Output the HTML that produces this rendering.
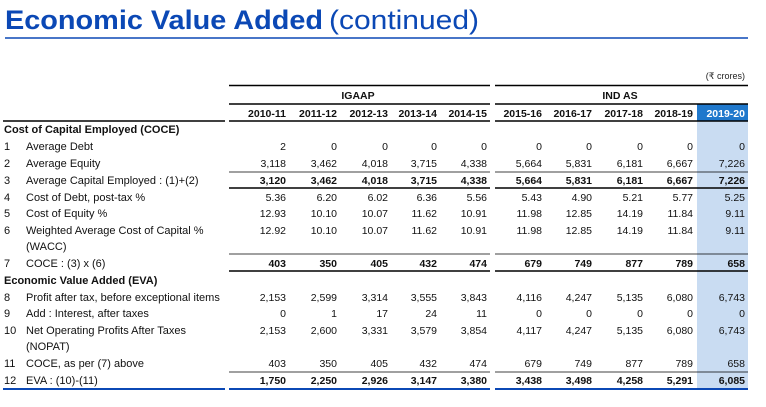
<!DOCTYPE html>
<html><head><meta charset="utf-8"><style>
html,body{margin:0;padding:0;background:#fff;}
svg{display:block;font-family:"Liberation Sans",sans-serif;}
.n{font-size:10.5px;fill:#111;}
.l{font-size:11px;fill:#111;}
.b{font-weight:bold;}
</style></head><body>
<svg width="766" height="407" viewBox="0 0 766 407">
<text x="5" y="29" font-size="27" font-weight="bold" fill="#0b48b5" textLength="318" lengthAdjust="spacingAndGlyphs">Economic Value Added</text>
<text x="329" y="29" font-size="27" fill="#0b48b5" textLength="150" lengthAdjust="spacingAndGlyphs">(continued)</text>
<line x1="5" y1="38" x2="748" y2="38" stroke="#0b48b5" stroke-width="1.5"/>
<text x="745" y="79" font-size="9" fill="#222" text-anchor="end">(₹ crores)</text>
<rect x="697" y="104" width="51" height="285" fill="#c9dcf2"/>
<rect x="697" y="104" width="51" height="17" fill="#1f78cc"/>
<g stroke="#000">
<line x1="229" y1="85.5" x2="490" y2="85.5" stroke-width="1.6"/>
<line x1="495" y1="85.5" x2="748" y2="85.5" stroke-width="1.6"/>
<line x1="229" y1="104" x2="490" y2="104" stroke-width="1.6"/>
<line x1="495" y1="104" x2="748" y2="104" stroke-width="1.6"/>
<line x1="3" y1="121" x2="225" y2="121" stroke-width="1.6"/>
<line x1="229" y1="121" x2="490" y2="121" stroke-width="1.6"/>
<line x1="495" y1="121" x2="748" y2="121" stroke-width="1.6"/>
<line x1="229" y1="172" x2="490" y2="172" stroke-width="0.8"/>
<line x1="495" y1="172" x2="748" y2="172" stroke-width="0.8"/>
<line x1="229" y1="188" x2="490" y2="188" stroke-width="1.6"/>
<line x1="495" y1="188" x2="748" y2="188" stroke-width="1.6"/>
<line x1="229" y1="254" x2="490" y2="254" stroke-width="0.8"/>
<line x1="495" y1="254" x2="748" y2="254" stroke-width="0.8"/>
<line x1="229" y1="271" x2="490" y2="271" stroke-width="1.6"/>
<line x1="495" y1="271" x2="748" y2="271" stroke-width="1.6"/>
<line x1="229" y1="372" x2="490" y2="372" stroke-width="0.8"/>
<line x1="495" y1="372" x2="748" y2="372" stroke-width="0.8"/>
</g>
<g stroke="#0b48b5" stroke-width="2">
<line x1="3" y1="389" x2="225" y2="389"/>
<line x1="229" y1="389" x2="490" y2="389"/>
<line x1="495" y1="389" x2="748" y2="389"/>
</g>
<text class="n b" x="358" y="99" text-anchor="middle">IGAAP</text>
<text class="n b" x="620" y="99" text-anchor="middle">IND AS</text>
<text class="n b" y="117" text-anchor="end"><tspan x="286">2010-11</tspan><tspan x="337">2011-12</tspan><tspan x="388">2012-13</tspan><tspan x="437">2013-14</tspan><tspan x="487">2014-15</tspan><tspan x="542">2015-16</tspan><tspan x="592">2016-17</tspan><tspan x="643">2017-18</tspan><tspan x="693">2018-19</tspan><tspan x="745" fill="#fff">2019-20</tspan></text>

<text class="l b" x="4" y="133">Cost of Capital Employed (COCE)</text>
<g class="l">
<text x="4" y="150">1</text><text x="26" y="150">Average Debt</text>
<text x="4" y="167">2</text><text x="26" y="167">Average Equity</text>
<text x="4" y="184">3</text><text x="26" y="184">Average Capital Employed : (1)+(2)</text>
<text x="4" y="201">4</text><text x="26" y="201">Cost of Debt, post-tax %</text>
<text x="4" y="217">5</text><text x="26" y="217">Cost of Equity %</text>
<text x="4" y="234">6</text><text x="26" y="234">Weighted Average Cost of Capital %</text>
<text x="26" y="250">(WACC)</text>
<text x="4" y="267">7</text><text x="26" y="267">COCE : (3) x (6)</text>
<text x="4" y="301">8</text><text x="26" y="301">Profit after tax, before exceptional items</text>
<text x="4" y="317">9</text><text x="26" y="317">Add : Interest, after taxes</text>
<text x="4" y="334">10</text><text x="26" y="334">Net Operating Profits After Taxes</text>
<text x="26" y="350">(NOPAT)</text>
<text x="4" y="367">11</text><text x="26" y="367">COCE, as per (7) above</text>
<text x="4" y="384">12</text><text x="26" y="384">EVA : (10)-(11)</text>
</g>
<text class="l b" x="4" y="284">Economic Value Added (EVA)</text>

<g class="n" text-anchor="end">
<text y="150"><tspan x="286">2</tspan><tspan x="337">0</tspan><tspan x="388">0</tspan><tspan x="437">0</tspan><tspan x="487">0</tspan><tspan x="542">0</tspan><tspan x="592">0</tspan><tspan x="643">0</tspan><tspan x="693">0</tspan><tspan x="745">0</tspan></text>
<text y="167"><tspan x="286">3,118</tspan><tspan x="337">3,462</tspan><tspan x="388">4,018</tspan><tspan x="437">3,715</tspan><tspan x="487">4,338</tspan><tspan x="542">5,664</tspan><tspan x="592">5,831</tspan><tspan x="643">6,181</tspan><tspan x="693">6,667</tspan><tspan x="745">7,226</tspan></text>
<text y="184" font-weight="bold"><tspan x="286">3,120</tspan><tspan x="337">3,462</tspan><tspan x="388">4,018</tspan><tspan x="437">3,715</tspan><tspan x="487">4,338</tspan><tspan x="542">5,664</tspan><tspan x="592">5,831</tspan><tspan x="643">6,181</tspan><tspan x="693">6,667</tspan><tspan x="745">7,226</tspan></text>
<text y="201"><tspan x="286">5.36</tspan><tspan x="337">6.20</tspan><tspan x="388">6.02</tspan><tspan x="437">6.36</tspan><tspan x="487">5.56</tspan><tspan x="542">5.43</tspan><tspan x="592">4.90</tspan><tspan x="643">5.21</tspan><tspan x="693">5.77</tspan><tspan x="745">5.25</tspan></text>
<text y="217"><tspan x="286">12.93</tspan><tspan x="337">10.10</tspan><tspan x="388">10.07</tspan><tspan x="437">11.62</tspan><tspan x="487">10.91</tspan><tspan x="542">11.98</tspan><tspan x="592">12.85</tspan><tspan x="643">14.19</tspan><tspan x="693">11.84</tspan><tspan x="745">9.11</tspan></text>
<text y="234"><tspan x="286">12.92</tspan><tspan x="337">10.10</tspan><tspan x="388">10.07</tspan><tspan x="437">11.62</tspan><tspan x="487">10.91</tspan><tspan x="542">11.98</tspan><tspan x="592">12.85</tspan><tspan x="643">14.19</tspan><tspan x="693">11.84</tspan><tspan x="745">9.11</tspan></text>
<text y="267" font-weight="bold"><tspan x="286">403</tspan><tspan x="337">350</tspan><tspan x="388">405</tspan><tspan x="437">432</tspan><tspan x="487">474</tspan><tspan x="542">679</tspan><tspan x="592">749</tspan><tspan x="643">877</tspan><tspan x="693">789</tspan><tspan x="745">658</tspan></text>
<text y="301"><tspan x="286">2,153</tspan><tspan x="337">2,599</tspan><tspan x="388">3,314</tspan><tspan x="437">3,555</tspan><tspan x="487">3,843</tspan><tspan x="542">4,116</tspan><tspan x="592">4,247</tspan><tspan x="643">5,135</tspan><tspan x="693">6,080</tspan><tspan x="745">6,743</tspan></text>
<text y="317"><tspan x="286">0</tspan><tspan x="337">1</tspan><tspan x="388">17</tspan><tspan x="437">24</tspan><tspan x="487">11</tspan><tspan x="542">0</tspan><tspan x="592">0</tspan><tspan x="643">0</tspan><tspan x="693">0</tspan><tspan x="745">0</tspan></text>
<text y="334"><tspan x="286">2,153</tspan><tspan x="337">2,600</tspan><tspan x="388">3,331</tspan><tspan x="437">3,579</tspan><tspan x="487">3,854</tspan><tspan x="542">4,117</tspan><tspan x="592">4,247</tspan><tspan x="643">5,135</tspan><tspan x="693">6,080</tspan><tspan x="745">6,743</tspan></text>
<text y="367"><tspan x="286">403</tspan><tspan x="337">350</tspan><tspan x="388">405</tspan><tspan x="437">432</tspan><tspan x="487">474</tspan><tspan x="542">679</tspan><tspan x="592">749</tspan><tspan x="643">877</tspan><tspan x="693">789</tspan><tspan x="745">658</tspan></text>
<text y="384" font-weight="bold"><tspan x="286">1,750</tspan><tspan x="337">2,250</tspan><tspan x="388">2,926</tspan><tspan x="437">3,147</tspan><tspan x="487">3,380</tspan><tspan x="542">3,438</tspan><tspan x="592">3,498</tspan><tspan x="643">4,258</tspan><tspan x="693">5,291</tspan><tspan x="745">6,085</tspan></text>
</g>
</svg>
</body></html>
